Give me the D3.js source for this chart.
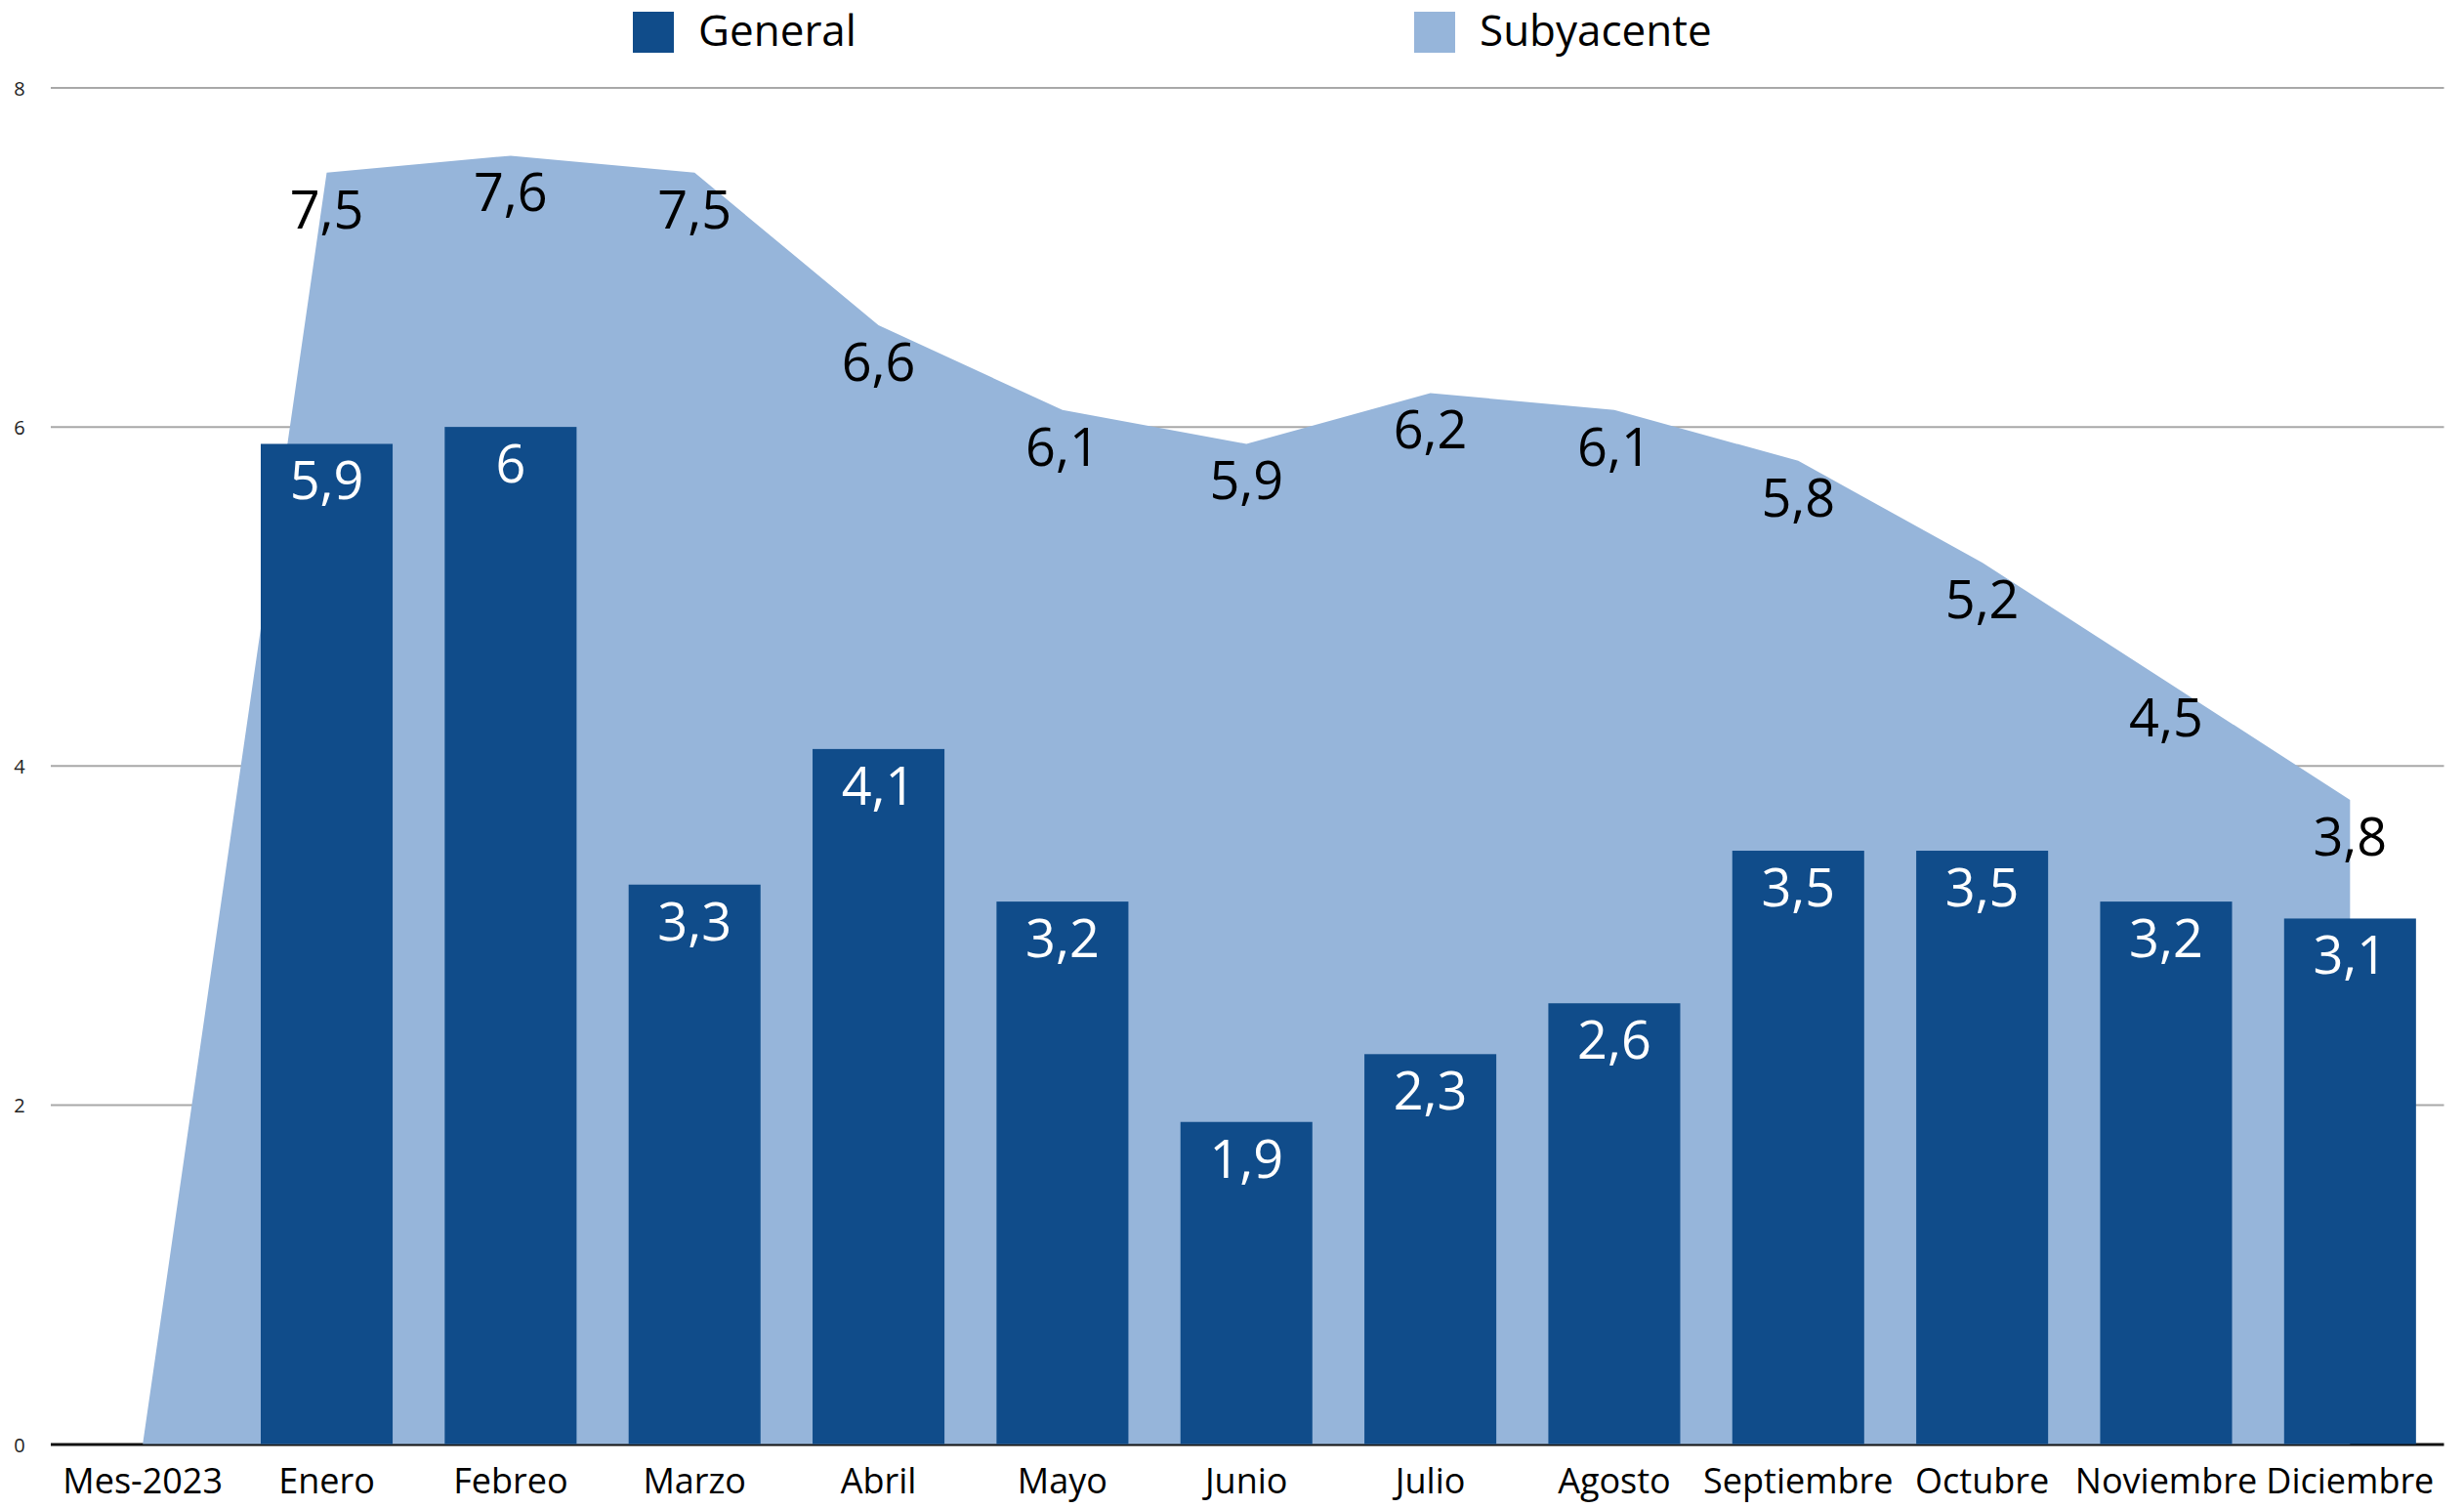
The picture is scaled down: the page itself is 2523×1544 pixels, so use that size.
<!DOCTYPE html>
<html>
<head>
<meta charset="utf-8">
<script src="https://cdn.jsdelivr.net/npm/d3@7"></script>
<style>
  html, body { margin: 0; padding: 0; background: #fff; }
  svg { display: block; }
  text { font-family: "Open Sans", "Noto Sans", sans-serif; }
</style>
</head>
<body>
<svg id="chart" width="2523" height="1544"></svg>
<script>
const categories = ["Mes-2023","Enero","Febreo","Marzo","Abril","Mayo","Junio","Julio","Agosto","Septiembre","Octubre","Noviembre","Diciembre"];
const general    = [null, 5.9, 6, 3.3, 4.1, 3.2, 1.9, 2.3, 2.6, 3.5, 3.5, 3.2, 3.1];
const subyacente = [null, 7.5, 7.6, 7.5, 6.6, 6.1, 5.9, 6.2, 6.1, 5.8, 5.2, 4.5, 3.8];
const yTicks = [0, 2, 4, 6, 8];
const seriesNames = ["General", "Subyacente"];

const colors = { General: "#104c8a", Subyacente: "#96b5da" };

const svg = d3.select("#chart");
const plotLeft = 52, plotRight = 2500.5, plotTop = 90, plotBottom = 1478.5;

const x = d3.scaleBand().domain(categories).range([plotLeft, plotRight]).paddingInner(0.283).paddingOuter(0.1415);
const xc = c => x(c) + x.bandwidth() / 2;
const y = d3.scaleLinear().domain([0, 8]).range([plotBottom, plotTop]);
const fmt = v => String(v).replace(".", ",");

// gridlines
svg.append("g").selectAll("line").data(yTicks.filter(t => t > 0)).join("line")
  .attr("x1", plotLeft).attr("x2", plotRight + 2)
  .attr("y1", d => y(d)).attr("y2", d => y(d))
  .attr("stroke", "#a8a8a8").attr("stroke-width", 2);

// y tick labels
svg.append("g").selectAll("text").data(yTicks).join("text")
  .attr("x", 20).attr("y", d => y(d) + 8)
  .attr("text-anchor", "middle").attr("font-size", 20).attr("fill", "#222")
  .text(d => d);

// baseline
svg.append("line").attr("x1", plotLeft).attr("x2", plotRight + 2)
  .attr("y1", y(0) + 0.5).attr("y2", y(0) + 0.5)
  .attr("stroke", "#111").attr("stroke-width", 3);

// area (Subyacente)
const areaData = categories.map((c, i) => ({ c, v: subyacente[i] ?? 0 }));
svg.append("path").datum(areaData)
  .attr("fill", colors.Subyacente)
  .attr("d", d3.area().x(d => xc(d.c)).y0(y(0)).y1(d => y(d.v)));

// bars (General)
const barData = categories.map((c, i) => ({ c, v: general[i] })).filter(d => d.v != null);
svg.append("g").selectAll("rect").data(barData).join("rect")
  .attr("x", d => x(d.c)).attr("width", x.bandwidth())
  .attr("y", d => y(d.v)).attr("height", d => y(0) - y(d.v))
  .attr("fill", colors.General);

// bar labels
svg.append("g").selectAll("text").data(barData).join("text")
  .attr("x", d => xc(d.c)).attr("y", d => y(d.v) + 57)
  .attr("text-anchor", "middle").attr("font-size", 54).attr("fill", "#fff")
  .text(d => fmt(d.v));

// area labels
const subLabels = categories.map((c, i) => ({ c, v: subyacente[i] })).filter(d => d.v != null);
svg.append("g").selectAll("text").data(subLabels).join("text")
  .attr("x", d => xc(d.c)).attr("y", d => y(d.v) + 57)
  .attr("text-anchor", "middle").attr("font-size", 54).attr("fill", "#000")
  .text(d => fmt(d.v));

// x axis labels
svg.append("g").selectAll("text").data(categories).join("text")
  .attr("x", d => xc(d)).attr("y", 1529)
  .attr("text-anchor", "middle").attr("font-size", 36).attr("fill", "#000")
  .text(d => d);

// legend
const legendX = [648, 1448];
const lg = svg.append("g").selectAll("g").data(seriesNames).join("g")
  .attr("transform", (d, i) => `translate(${legendX[i]},12)`);
lg.append("rect").attr("width", 42).attr("height", 42).attr("fill", d => colors[d]);
lg.append("text").attr("x", 67).attr("y", 35).attr("font-size", 44).attr("fill", "#000").text(d => d);
</script>
</body>
</html>
